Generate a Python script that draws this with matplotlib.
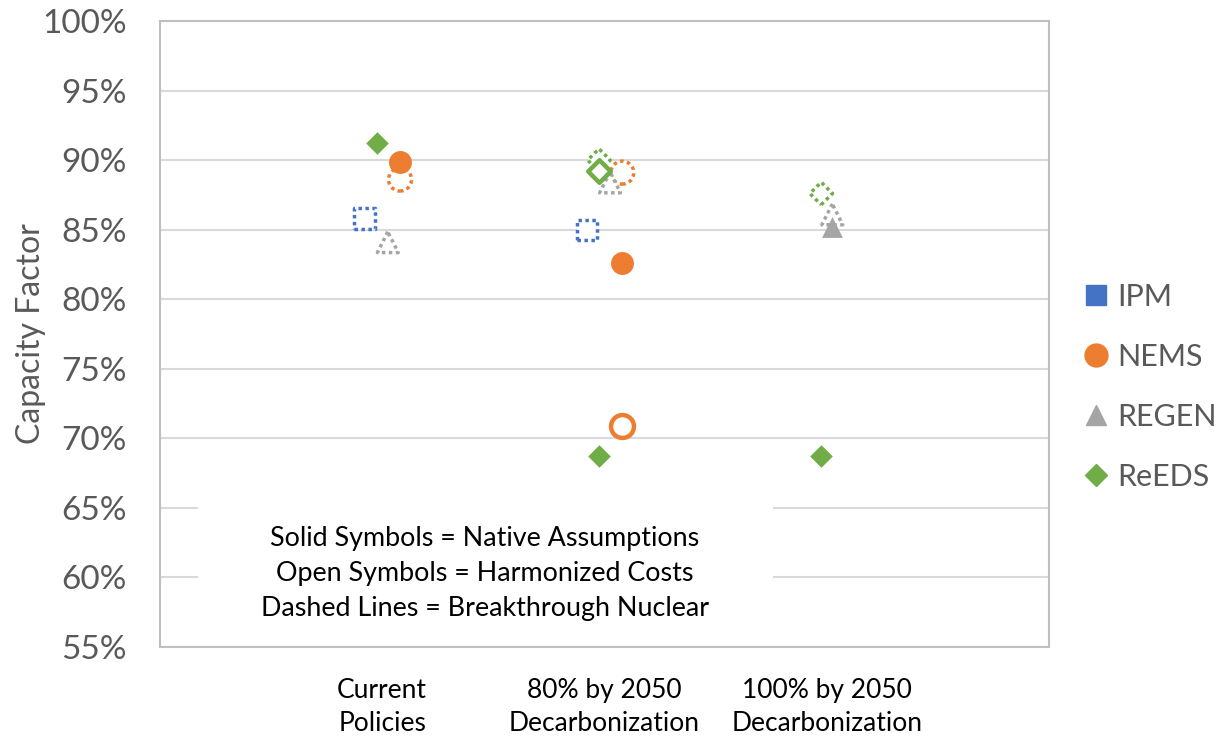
import numpy as np
import matplotlib.pyplot as plt
from matplotlib.lines import Line2D
from matplotlib.patches import Rectangle

plt.rcParams['font.family'] = ['Lato', 'DejaVu Sans']

scenarios = ['Current\nPolicies', '80% by 2050\nDecarbonization', '100% by 2050\nDecarbonization']
models = ['IPM', 'NEMS', 'REGEN', 'ReEDS']
colors = {'IPM': '#4472C4', 'NEMS': '#ED7D31', 'REGEN': '#A5A5A5', 'ReEDS': '#70AD47'}
markers = {'IPM': 's', 'NEMS': 'o', 'REGEN': '^', 'ReEDS': 'D'}
sizes = {'IPM': 14.5, 'NEMS': 16.5, 'REGEN': 15, 'ReEDS': 11.5}
offsets = {'IPM': -0.08, 'NEMS': 0.08, 'REGEN': 0.025, 'ReEDS': -0.025}

nan = np.nan
# capacity factor (%) per scenario
native = {
    'IPM':   [nan, nan, nan],
    'NEMS':  [89.9, 82.6, nan],
    'REGEN': [nan, nan, 85.2],
    'ReEDS': [91.2, 68.7, 68.7],
}
harmonized = {
    'IPM':   [nan, nan, nan],
    'NEMS':  [nan, 70.9, nan],
    'REGEN': [nan, nan, nan],
    'ReEDS': [nan, 89.2, nan],
}
breakthrough = {
    'IPM':   [85.8, 85.0, nan],
    'NEMS':  [88.6, 89.1, nan],
    'REGEN': [84.1, 88.4, 86.1],
    'ReEDS': [nan, 90.0, 87.6],
}

fig = plt.figure(figsize=(12.25, 7.4), dpi=100)
ax = fig.add_axes([160/1225, 1 - 647/740, 889/1225, 626/740])

xpos = np.arange(1, len(scenarios) + 1)

for m in models:
    x = xpos + offsets[m]
    s = sizes[m] ** 2
    ax.scatter(x, breakthrough[m], marker=markers[m], s=s, facecolors='white',
               edgecolors=colors[m], linewidths=2.5, linestyles=(0, (1, 1.0)), zorder=3)
    ax.scatter(x, harmonized[m], marker=markers[m], s=s, facecolors='white',
               edgecolors=colors[m], linewidths=3.2, zorder=4)
    ax.scatter(x, native[m], marker=markers[m], s=s, color=colors[m],
               linewidths=0, zorder=5)

ax.set_xlim(0, 4)
ax.set_ylim(55, 100)
ax.set_yticks(np.arange(55, 101, 5))
ax.set_yticklabels([f'{v}%' for v in range(55, 101, 5)])
ax.set_xticks(xpos)
ax.set_xticklabels(scenarios, linespacing=1.4)
ax.tick_params(axis='y', length=0, labelsize=24, labelcolor='#595959', pad=24)
ax.tick_params(axis='x', length=0, labelsize=19, labelcolor='black', pad=22.5)
ax.grid(axis='y', color='#D9D9D9', linewidth=1.5)
ax.set_axisbelow(True)
for sp in ax.spines.values():
    sp.set_color('#BFBFBF')
    sp.set_linewidth(1.5)
ax.set_ylabel('Capacity Factor', fontsize=23, color='#595959')
ax.yaxis.set_label_coords(-0.128, 0.5)

# note box
ax.add_patch(Rectangle((0.0427, 0.03), 0.647, 0.205, transform=ax.transAxes,
                       facecolor='white', edgecolor='none', zorder=2))
ax.text(0.3656, 0.118, 'Solid Symbols = Native Assumptions\nOpen Symbols = Harmonized Costs\nDashed Lines = Breakthrough Nuclear',
        transform=ax.transAxes, ha='center', va='center', fontsize=19.4,
        linespacing=1.5, zorder=6)

handles = [Line2D([], [], marker=markers[m], color=colors[m], linestyle='none',
                  markersize=sizes[m] * 1.0) for m in models]
fig.legend(handles, models, loc='center left', bbox_to_anchor=(1050/1225, 1 - 387/740),
           frameon=False, fontsize=22, labelcolor='#595959', labelspacing=1.05,
           handletextpad=0.1, handlelength=1.2)

fig.savefig('out.png', dpi=100)
